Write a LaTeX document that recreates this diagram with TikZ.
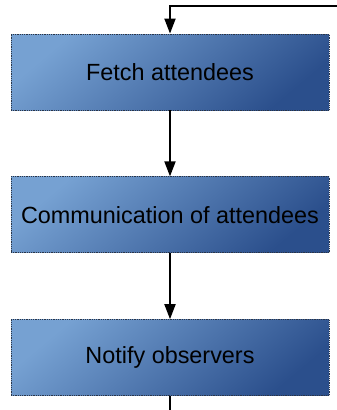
\documentclass[tikz,border=0pt]{standalone}
\usepackage{fontspec}
\setmainfont{Liberation Sans}
\usetikzlibrary{arrows.meta}
\usetikzlibrary{positioning}

\definecolor{boxlight}{HTML}{76A1D2}
\definecolor{boxdark}{HTML}{2B4F8C}
\definecolor{boxline}{HTML}{2A3548}

\begin{document}
\begin{tikzpicture}[x=1pt, y=-1pt, node distance=66pt,
    stepbox/.style={rectangle, draw=boxline, densely dotted, line width=0.8pt,
        shading=axis, top color=boxlight, bottom color=boxdark, shading angle=40,
        minimum width=318pt, minimum height=76pt, inner sep=0pt,
        font=\fontsize{23.4}{28}\selectfont, text centered},
    flow/.style={line width=1.8pt, -{Triangle[length=15pt, width=11pt]}}]
    \useasboundingbox (0,0) rectangle (337,410);

    % Steps
    \node [stepbox] at (170,72) (fetch) {Fetch attendees};
    \node [stepbox, below=of fetch] (comm) {Communication of attendees};
    \node [stepbox, below=of comm] (notify) {Notify observers};

    % Loose ends
    \coordinate (loopin) at (337,6);
    \coordinate (loopout) at (170,410);

    % Arrows
    \draw [flow] (loopin) -- (fetch.north |- loopin) -- (fetch);
    \draw [flow] (fetch) -- (comm);
    \draw [flow] (comm) -- (notify);
    \draw [line width=1.8pt] (notify) -- (loopout);

\end{tikzpicture}
\end{document}
